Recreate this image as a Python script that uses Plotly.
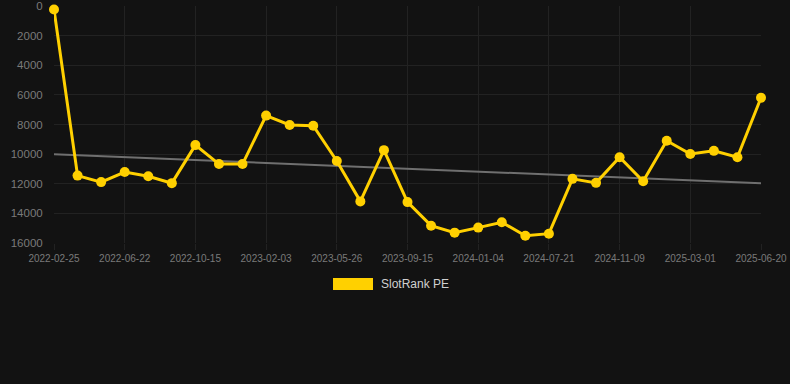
import numpy as np
import plotly.graph_objects as go

dates = ["2022-02-25", "2022-04-03", "2022-05-13", "2022-06-22", "2022-07-31", "2022-09-06",
         "2022-10-15", "2022-11-23", "2022-12-29", "2023-02-03", "2023-03-14", "2023-04-19",
         "2023-05-26", "2023-07-03", "2023-08-09", "2023-09-15", "2023-10-22", "2023-11-28",
         "2024-01-04", "2024-03-15", "2024-05-20", "2024-07-21", "2024-08-27", "2024-10-03",
         "2024-11-09", "2024-12-17", "2025-01-23", "2025-03-01", "2025-04-06", "2025-05-13",
         "2025-06-20"]
ranks = [240, 11450, 11890, 11210, 11490, 11960,
         9390, 10670, 10670, 7400, 8030, 8080,
         10460, 13190, 9730, 13240, 14830, 15300,
         14960, 14600, 15510, 15370, 11670, 11940,
         10210, 11830, 9100, 9990, 9780, 10210,
         6190]
tick_labels = dates[::3]
y_ticks = [0, 2000, 4000, 6000, 8000, 10000, 12000, 14000, 16000]
series_name = "SlotRank PE"

# linear trend from the data
idx = np.arange(len(ranks))
slope, intercept = np.polyfit(idx, ranks, 1)
trend = slope * idx + intercept

fig = go.Figure()
fig.add_trace(go.Scatter(x=dates, y=trend, mode="lines",
                         line=dict(color="#6f6f6f", width=2),
                         showlegend=False, hoverinfo="skip", cliponaxis=False))
fig.add_trace(go.Scatter(x=dates, y=ranks, mode="lines+markers", name=series_name,
                         line=dict(color="#FFD000", width=3),
                         marker=dict(color="#FFD000", size=10),
                         showlegend=False, cliponaxis=False))

# Chart.js-style legend: filled swatch + label
fig.add_shape(type="rect", xref="paper", yref="paper",
              x0=(333 - 54) / 707, x1=(373 - 54) / 707,
              y0=(243 - 290) / 237, y1=(243 - 278) / 237,
              fillcolor="#FFD000", line=dict(width=0))
fig.add_annotation(xref="paper", yref="paper", x=(379 - 54) / 707, y=(243 - 284) / 237,
                   text=series_name, showarrow=False, xanchor="left", yanchor="middle",
                   font=dict(family="Liberation Sans, Arial, sans-serif", size=12, color="#d0d0d0"))

fig.update_layout(
    width=790, height=384,
    margin=dict(l=54, r=29, t=6, b=141),
    paper_bgcolor="#121212", plot_bgcolor="#121212",
    font=dict(family="Liberation Sans, Arial, sans-serif", color="#7a7a7a"),
    showlegend=False,
    xaxis=dict(type="category", range=[0, len(dates) - 1], automargin=False,
               tickmode="array", tickvals=tick_labels, ticktext=tick_labels,
               showgrid=True, gridcolor="#222222", gridwidth=1,
               zeroline=False, showline=False,
               ticks="outside", ticklen=6, tickcolor="#222222",
               tickfont=dict(size=10, color="#7a7a7a")),
    yaxis=dict(range=[16000, 0], tickmode="array", tickvals=y_ticks, automargin=False,
               ticktext=[str(v) for v in y_ticks],
               showgrid=True, gridcolor="#222222", gridwidth=1,
               zeroline=False, showline=False,
               ticks="outside", ticklen=8, tickcolor="rgba(0,0,0,0)",
               tickfont=dict(size=11.5, color="#7a7a7a")),
)

fig.write_html("out.html", config={"displayModeBar": False},
               post_script="document.body.style.margin='0';document.body.style.background='#121212';")
